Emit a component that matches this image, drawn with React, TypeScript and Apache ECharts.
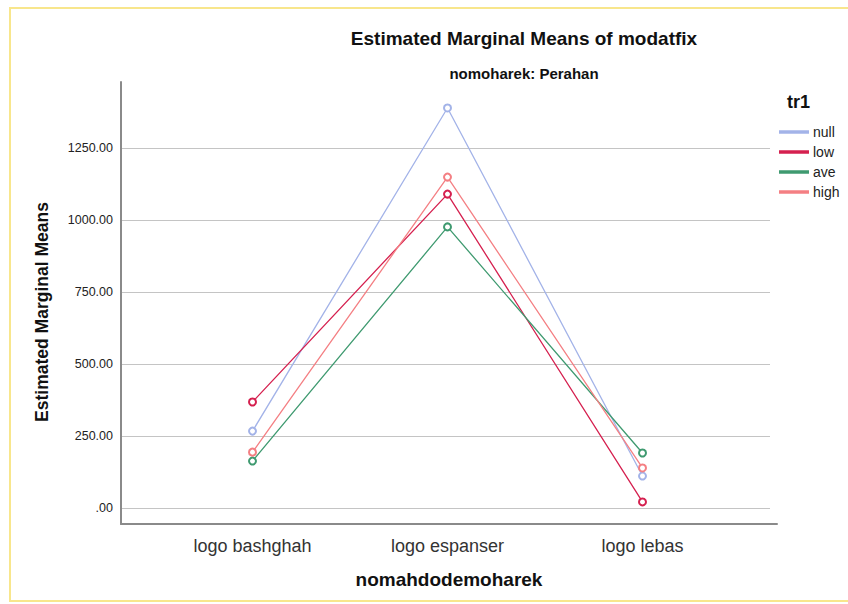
import React, { useEffect, useRef } from "react";
import * as echarts from "echarts";

const categories = ["logo bashghah", "logo espanser", "logo lebas"];
const seriesNames = ["null", "low", "ave", "high"];
const nullVals = [267, 1389, 111];
const lowVals = [368, 1090, 21];
const aveVals = [163, 976, 191];
const highVals = [194, 1149, 139];
const seriesColors = ["#a3b3e8", "#d5204f", "#3f9a70", "#f47f83"];
const yTicks = [0, 250, 500, 750, 1000, 1250];

const FONT = "Liberation Sans, Arial, sans-serif";

export default function App() {
  const ref = useRef<HTMLDivElement>(null);
  useEffect(() => {
    if (!ref.current) return;
    const chart = echarts.init(ref.current, null, { renderer: "svg" });
    const values = [nullVals, lowVals, aveVals, highVals];
    const option: any = {
      animation: false,
      backgroundColor: "#ffffff",
      textStyle: { fontFamily: FONT },
      title: [
        {
          text: "Estimated Marginal Means of modatfix",
          left: 519,
          top: 24,
          textAlign: "center",
          textStyle: { fontSize: 19, fontWeight: "bold", color: "#111", fontFamily: FONT },
        },
        {
          text: "nomoharek: Perahan",
          left: 519,
          top: 61,
          textAlign: "center",
          textStyle: { fontSize: 15, fontWeight: "bold", color: "#111", fontFamily: FONT },
        },
        {
          text: "tr1",
          left: 782,
          top: 88,
          textStyle: { fontSize: 18, fontWeight: "bold", color: "#111", fontFamily: FONT },
        },
      ],
      legend: {
        orient: "vertical",
        left: 774,
        top: 120,
        itemWidth: 28,
        itemHeight: 1.5,
        itemGap: 6,
        icon: "rect",
        data: seriesNames,
        textStyle: { fontSize: 14, color: "#222", fontFamily: FONT },
      },
      grid: [
        { left: 155, right: 108, top: 76, bottom: 96 },
        { left: 121, right: 78, top: 76, bottom: 96 },
        { left: 121, right: 71, top: 82, bottom: 80 },
      ],
      xAxis: [
        {
          gridIndex: 0,
          type: "category",
          data: categories,
          boundaryGap: true,
          offset: 16,
          axisLine: { show: false },
          axisTick: { show: false },
          axisLabel: { fontSize: 18, color: "#333", margin: 13, fontFamily: FONT },
        },
        {
          gridIndex: 1,
          type: "category",
          data: categories,
          show: false,
        },
        {
          gridIndex: 2,
          type: "value",
          min: 0,
          max: 1,
          axisLine: { show: true, lineStyle: { color: "#8a8a8a", width: 2 } },
          axisTick: { show: false },
          axisLabel: { show: false },
          splitLine: { show: false },
          name: "nomahdodemoharek",
          nameLocation: "middle",
          nameGap: 46,
          nameTextStyle: { fontSize: 19, fontWeight: "bold", color: "#111", fontFamily: FONT },
        },
      ],
      yAxis: [
        {
          gridIndex: 0,
          type: "value",
          min: 0,
          max: 1500,
          interval: 250,
          show: false,
        },
        {
          gridIndex: 1,
          type: "value",
          min: 0,
          max: 1500,
          interval: 250,
          axisLine: { show: false },
          axisTick: { show: false },
          axisLabel: {
            fontSize: 12.5,
            color: "#222",
            margin: 8,
            showMaxLabel: false,
            fontFamily: FONT,
            formatter: (v: number) => (yTicks.includes(v) ? (v === 0 ? ".00" : v.toFixed(2)) : ""),
          },
          splitLine: { show: true, showMaxLine: false, lineStyle: { color: "#c4c4c4", width: 1 } },
        },
        {
          gridIndex: 2,
          type: "value",
          min: 0,
          max: 1,
          axisLine: { show: true, lineStyle: { color: "#8a8a8a", width: 2 } },
          axisTick: { show: false },
          axisLabel: { show: false },
          splitLine: { show: false },
        },
      ],
      graphic: [
        {
          type: "rect",
          shape: { x: 10, y: 8, width: 850, height: 593 },
          style: { fill: "none", stroke: "#f8e68c", lineWidth: 2 },
          silent: true,
          z: -1,
        },
        {
          type: "text",
          x: 42,
          y: 312,
          rotation: Math.PI / 2,
          style: {
            text: "Estimated Marginal Means",
            fontSize: 17.5,
            fontWeight: "bold",
            fill: "#111",
            fontFamily: FONT,
            align: "center",
            verticalAlign: "middle",
          },
        },
      ],
      series: seriesNames.map((name, i) => ({
        name,
        type: "line",
        xAxisIndex: 0,
        yAxisIndex: 0,
        data: values[i],
        symbol: "emptyCircle",
        symbolSize: 7,
        color: seriesColors[i],
        lineStyle: { width: 1.3, color: seriesColors[i] },
        itemStyle: { color: seriesColors[i], borderColor: seriesColors[i], borderWidth: 1.2 },
        z: 3,
      })),
    };
    chart.setOption(option);
    return () => chart.dispose();
  }, []);
  return (
    <div
      ref={ref}
      style={{ position: "absolute", left: 0, top: 0, width: 848, height: 604 }}
    />
  );
}
